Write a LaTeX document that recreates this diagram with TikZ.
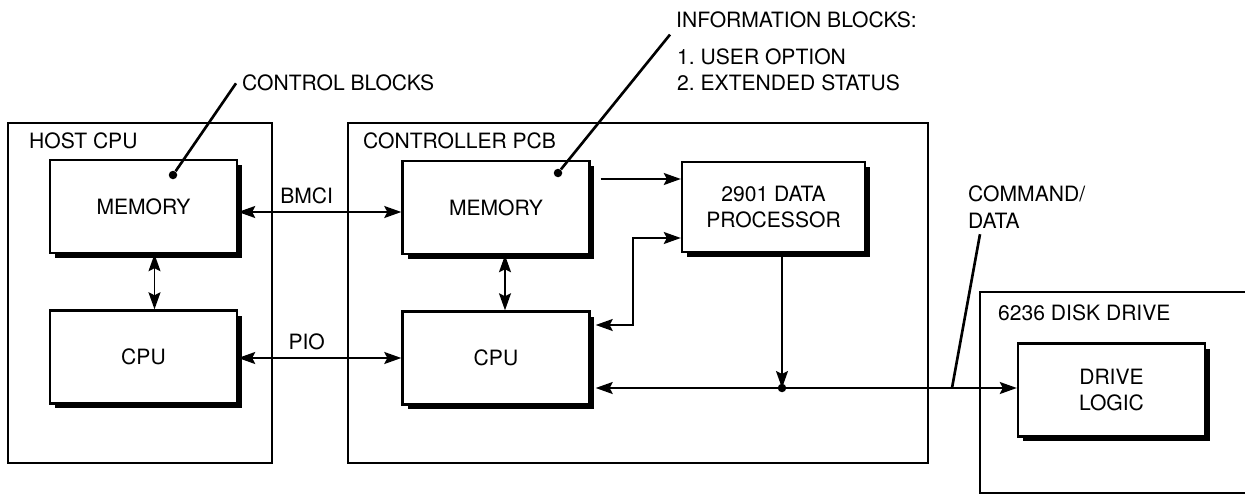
\documentclass[tikz,border=0pt]{standalone}
\usepackage{fontspec}
\setmainfont{TeX Gyre Heros}
\usetikzlibrary{arrows.meta,shadows}

\begin{document}
\begin{tikzpicture}[x=0.02cm,y=-0.02cm,every node/.style={font=\fontsize{12}{15.3}\selectfont},
  blk/.style={draw,line width=1.4pt,fill=white,minimum width=3.74cm,minimum height=1.86cm,align=center,
    drop shadow={shadow xshift=0.1cm,shadow yshift=-0.1cm,fill=black,opacity=1}},
  frame/.style={line width=1.3pt},
  arr/.style={line width=1pt,-{Stealth[length=3.4mm,width=2.4mm,inset=0.6mm]}},
  dbl/.style={line width=1pt,{Stealth[length=3.4mm,width=2.4mm,inset=0.6mm]}-{Stealth[length=3.4mm,width=2.4mm,inset=0.6mm]}},
  lead/.style={line width=1.5pt},
  dot/.style={circle,fill,inner sep=0pt,minimum size=0.17cm}]
  \useasboundingbox (0,0) rectangle (1245,497);
  % frames
  \draw[frame] (8,123) rectangle (272,463);
  \draw[frame] (348,123) rectangle (928,463);
  \draw[frame] (1245,292) -| (980,493) -- (1245,493);
  \node[anchor=base west] (hostlab) at (23,148) {HOST CPU};
  \node[anchor=base west] (ctllab) at (357,148) {CONTROLLER PCB};
  \node[anchor=base west] (disklab) at (992,320) {6236 DISK DRIVE};
  % blocks
  \node[blk] (hostmem) at (143.5,206.5) {MEMORY};
  \node[blk] (hostcpu) at (143.5,357) {CPU};
  \node[blk] (ctlmem) at (496,207.5) {MEMORY};
  \node[blk] (ctlcpu) at (496,358) {CPU};
  \node[blk,minimum width=3.66cm,minimum height=1.8cm] (dp) at (773.5,207) {2901 DATA\\PROCESSOR};
  \node[blk] (drive) at (1111.5,390) {DRIVE\\LOGIC};
  % buses
  \draw[dbl] (hostmem.east |- 0,212) -- (ctlmem.west |- 0,212) node[pos=0.42,above=1pt] (bmci) {BMCI};
  \draw[dbl] (hostcpu.east |- 0,358) -- (ctlcpu.west |- 0,358) node[pos=0.42,above=1pt] (pio) {PIO};
  \draw[dbl] ([xshift=0.22cm]hostmem.south) -- ([xshift=0.22cm]hostcpu.north);
  \draw[dbl] ([xshift=0.18cm]ctlmem.south) -- ([xshift=0.18cm]ctlcpu.north);
  \draw[arr,shorten <=0.2cm] (ctlmem.east |- 0,179) -- (dp.west |- 0,179);
  \draw[dbl,shorten <=0.1cm] (ctlcpu.east |- 0,325) -| (633,238) -- (dp.west |- 0,238);
  \coordinate (jn) at (782,388);
  \draw[arr] (dp.south -| jn) -- (jn);
  \draw[dbl,shorten <=0.1cm] (ctlcpu.east |- jn) -- (drive.west |- jn);
  \node[dot] (jdot) at (jn) {};
  % callouts
  \node[dot] (cbdot) at (173,175) {};
  \node[dot] (ibdot) at (558,173) {};
  \coordinate (cmdpt) at (952,388);
  \node[anchor=base west] (cblab) at (236,91) {CONTROL BLOCKS};
  \node[anchor=base west] (iblab) at (670,28) {INFORMATION BLOCKS:};
  \node[anchor=base west,align=left] (iblist) at (671,91) {1.\ USER OPTION\\2.\ EXTENDED STATUS};
  \node[anchor=base west,align=left] (cmdlab) at (962,228) {COMMAND/\\DATA};
  \draw[lead] (cblab.west) -- (cbdot);
  \draw[lead] (iblab.south west) -- (ibdot);
  \draw[lead] ([xshift=0.36cm]cmdlab.south west) -- (cmdpt);
\end{tikzpicture}
\end{document}
